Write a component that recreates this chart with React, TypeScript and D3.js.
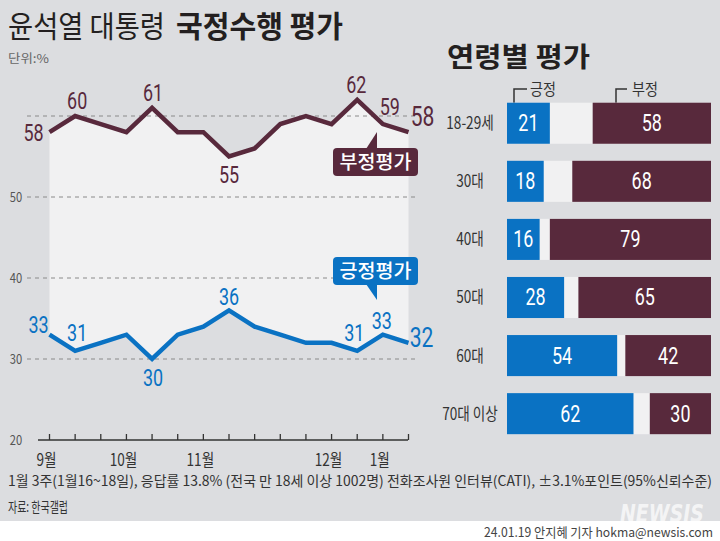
import React from 'react';
import * as d3 from 'd3';

// ---- data ----
const weeks = ['w01','w02','w03','w04','w05','w06','w07','w08','w09','w10','w11','w12','w13','w14','w15'];
const negative = [58, 60, 59, 58, 61, 58, 58, 55, 56, 59, 60, 59, 62, 59, 58];
const positive = [33, 31, 32, 33, 30, 33, 34, 36, 34, 33, 32, 32, 31, 33, 32];
const yTicks = [20, 30, 40, 50, 60];
const yTickLabels = ['20', '30', '40', '50', ''];
const monthLabels = ['9월', '10월', '11월', '12월', '1월'];
const monthAt = [0, 3, 6, 11, 13];

const ageGroups = ['18-29세', '30대', '40대', '50대', '60대', '70대 이상'];
const agePositive = [21, 18, 16, 28, 54, 62];
const ageNegative = [58, 68, 79, 65, 42, 30];

const BG = '#dcdde0';
const LIGHT = '#f1f1f2';
const MAROON = '#58293c';
const BLUE = '#0a72c3';
const NUMF = "Roboto,'Noto Sans',sans-serif";
const KR = "'Noto Sans CJK KR','Noto Sans',sans-serif";

// label placements (index -> [dx, dy, size])
const negPlace: Record<number, [number, number, number]> = {
  0: [-16, 9, 23], 1: [2, -7, 23], 4: [1, -7, 23], 7: [0, 26, 23], 12: [-1, -7, 23], 13: [7, -9, 23], 14: [14, -6, 27],
};
const posPlace: Record<number, [number, number, number]> = {
  0: [-11, -2, 23], 1: [2, -10, 23], 4: [1, 27, 23], 7: [0, -5, 23], 12: [-3, -10, 23], 13: [-1, -6, 23], 14: [13, 4, 27],
};

type CT = { x: number; y: number; size: number; fill: string; family: string; sx?: number; anchor?: string; weight?: number; children: React.ReactNode };
const CText = ({ x, y, size, fill, family, sx = 0.78, anchor = 'middle', weight = 400, children }: CT) => (
  <text transform={`translate(${x},${y}) scale(${sx},1)`} textAnchor={anchor as any} fontFamily={family}
    fontSize={size} fontWeight={weight} fill={fill}>{children}</text>
);

export default function App() {
  const x = d3.scalePoint<string>().domain(weeks).range([49.5, 408.5]);
  const y = d3.scaleLinear().domain([20, 60]).range([440, 116]);

  const lineNeg = d3.line<number>().x((_, i) => x(weeks[i])!).y((d) => y(d));
  const linePos = d3.line<number>().x((_, i) => x(weeks[i])!).y((d) => y(d));
  const band = d3.area<number>()
    .x((_, i) => x(weeks[i])!)
    .y0((_, i) => y(positive[i]))
    .y1((d) => y(d));

  const bx = d3.scaleLinear().domain([0, 100]).range([507, 711]);
  const by = d3.scaleBand<string>().domain(ageGroups).range([102.7, 434.2]).paddingInner(0.293).paddingOuter(0);

  return (
    <svg width={720} height={541} style={{ position: 'absolute', left: 0, top: 0, display: 'block' }}>
      <rect x={0} y={0} width={720} height={541} fill="#ffffff" />
      <rect x={0} y={0} width={720} height={521} fill={BG} />

      {/* title */}
      <text x={8} y={37} fontFamily={KR} fontSize={30} fill="#231f20" textLength={157} lengthAdjust="spacingAndGlyphs">윤석열 대통령</text>
      <text x={176} y={37} fontFamily={KR} fontSize={30} fontWeight={700} fill="#231f20" textLength={167} lengthAdjust="spacingAndGlyphs">국정수행 평가</text>
      <text x={8} y={63} fontFamily={KR} fontSize={12} fill="#666" textLength={41} lengthAdjust="spacingAndGlyphs">단위:%</text>

      {/* area between lines */}
      <path d={band(negative)!} fill={LIGHT} />

      {/* grid */}
      {yTicks.slice(1).map((t) => (
        <line key={t} x1={27} x2={416} y1={y(t)} y2={y(t)} stroke="#8a8a8a" strokeWidth={1} strokeDasharray="4 4" />
      ))}
      {yTicks.map((t, i) => (
        <CText key={'yl' + t} x={16} y={y(t) + 5} size={14} fill="#555" family={KR} sx={0.8}>{yTickLabels[i]}</CText>
      ))}

      {/* x axis */}
      <line x1={38} x2={408} y1={440} y2={440} stroke="#333" strokeWidth={1.5} />
      {weeks.map((w) => (
        <line key={w} x1={x(w)!} x2={x(w)!} y1={434} y2={440} stroke="#333" strokeWidth={1.3} />
      ))}
      {monthLabels.map((m, i) => (
        <CText key={m} x={x(weeks[monthAt[i]])! - 3} y={466} size={17} fill="#333" family={KR} sx={0.8}>{m}</CText>
      ))}

      {/* lines */}
      <path d={lineNeg(negative)!} fill="none" stroke={MAROON} strokeWidth={4.5} strokeLinejoin="miter" />
      <path d={linePos(positive)!} fill="none" stroke={BLUE} strokeWidth={4.5} strokeLinejoin="miter" />

      {/* value labels */}
      {negative.map((v, i) => negPlace[i] ? (
        <CText key={'n' + i} x={x(weeks[i])! + negPlace[i][0]} y={y(v) + negPlace[i][1]} size={negPlace[i][2]} fill={MAROON} family={NUMF}>{v}</CText>
      ) : null)}
      {positive.map((v, i) => posPlace[i] ? (
        <CText key={'p' + i} x={x(weeks[i])! + posPlace[i][0]} y={y(v) + posPlace[i][1]} size={posPlace[i][2]} fill={BLUE} family={NUMF}>{v}</CText>
      ) : null)}

      {/* callouts */}
      <rect x={333} y={148} width={85} height={28} rx={4} fill={MAROON} />
      <path d="M366,149 L377,149 L377,132 Z" fill={MAROON} />
      <text x={375.5} y={169} textAnchor="middle" fontFamily={KR} fontSize={19} fontWeight={500} fill="#fff" textLength={72} lengthAdjust="spacingAndGlyphs">부정평가</text>

      <rect x={333} y={257} width={85} height={28} rx={4} fill={BLUE} />
      <path d="M366,284 L377,284 L377,300 Z" fill={BLUE} />
      <text x={375.5} y={278} textAnchor="middle" fontFamily={KR} fontSize={19} fontWeight={500} fill="#fff" textLength={72} lengthAdjust="spacingAndGlyphs">긍정평가</text>

      {/* right panel */}
      <text x={447} y={67} fontFamily={KR} fontSize={27} fontWeight={700} fill="#231f20" textLength={143} lengthAdjust="spacingAndGlyphs">연령별 평가</text>

      <path d="M527,89 L514,89 L514,106" fill="none" stroke="#333" strokeWidth={1.5} />
      <CText x={530} y={95} size={16} fill="#333" family={KR} anchor="start" sx={0.88}>긍정</CText>
      <path d="M627,89 L616,89 L616,106" fill="none" stroke="#333" strokeWidth={1.5} />
      <CText x={632} y={95} size={16} fill="#333" family={KR} anchor="start" sx={0.88}>부정</CText>

      {ageGroups.map((g, i) => {
        const y0 = by(g)!;
        const h = by.bandwidth();
        const pEnd = bx(agePositive[i]);
        const nStart = bx(100 - ageNegative[i]);
        return (
          <g key={g}>
            <rect x={bx(0)} y={y0} width={bx(100) - bx(0)} height={h} fill={LIGHT} />
            <rect x={bx(0)} y={y0} width={pEnd - bx(0)} height={h} fill={BLUE} />
            <rect x={nStart} y={y0} width={bx(100) - nStart} height={h} fill={MAROON} />
            <CText x={470} y={y0 + h / 2 + 6} size={17} fill="#333" family={KR} sx={0.8}>{g}</CText>
            <CText x={(bx(0) + pEnd) / 2} y={y0 + h / 2 + 8} size={23} fill="#fff" family={NUMF}>{agePositive[i]}</CText>
            <CText x={(nStart + bx(100)) / 2} y={y0 + h / 2 + 8} size={23} fill="#fff" family={NUMF}>{ageNegative[i]}</CText>
          </g>
        );
      })}

      {/* footer */}
      <text x={8} y={486} fontFamily={KR} fontSize={14} fill="#333" textLength={704} lengthAdjust="spacingAndGlyphs">1월 3주(1월16~18일), 응답률 13.8% (전국 만 18세 이상 1002명) 전화조사원 인터뷰(CATI), ±3.1%포인트(95%신뢰수준)</text>
      <text x={8} y={512} fontFamily={KR} fontSize={14} fill="#333" textLength={60} lengthAdjust="spacingAndGlyphs">자료: 한국갤럽</text>

      <text x={620} y={522} fontFamily="'DejaVu Sans','Liberation Sans',sans-serif" fontSize={24} fontWeight={700} fontStyle="italic" fill="#ffffff" fillOpacity={0.7} textLength={84} lengthAdjust="spacingAndGlyphs">NEWSIS</text>
      <text x={713} y={537} textAnchor="end" fontFamily={KR} fontSize={13} fill="#444" textLength={229} lengthAdjust="spacingAndGlyphs">24.01.19 안지혜 기자 hokma@newsis.com</text>
    </svg>
  );
}
